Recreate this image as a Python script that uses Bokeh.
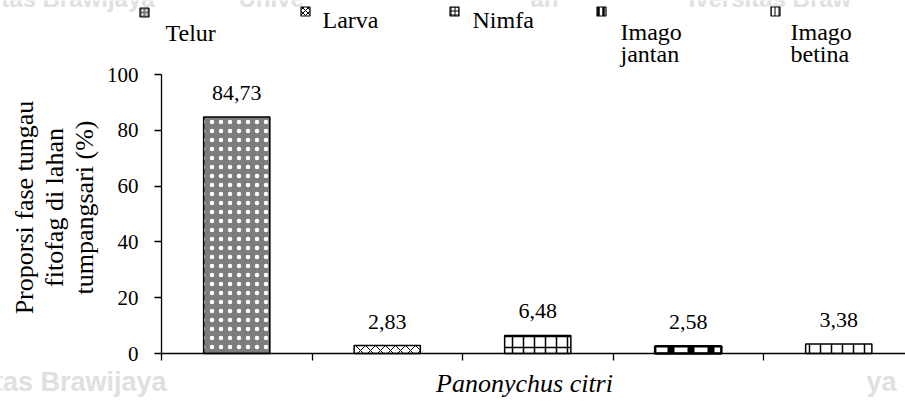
import math
from bokeh.plotting import figure
from bokeh.models import Range1d, FixedTicker, ColumnDataSource
from bokeh.core.properties import value
from bokeh.embed import file_html
from bokeh.resources import INLINE

# Proportion of each life stage of the phytophagous mite (Panonychus citri)
stages = ["Telur", "Larva", "Nimfa", "Imago jantan", "Imago betina"]
legend_lines = [["Telur"], ["Larva"], ["Nimfa"], ["Imago", "jantan"], ["Imago", "betina"]]
proportions = [84.73, 2.83, 6.48, 2.58, 3.38]
y_ticks = [0, 20, 40, 60, 80, 100]
species = "Panonychus citri"
y_title_lines = ["Proporsi fase tungau", "fitofag di lahan", "tumpangsari (%)"]

FONT = "Liberation Serif"

# fill styles for each stage
fills = ["#7c7c7c", "white", "white", "white", "white"]
hatches = ["dot", "diagonal_cross", "cross", "vertical_line", "vertical_line"]
hatch_colors = ["white", "black", "black", "black", "black"]
hatch_scales = [9, 10, 11, 20, 11]
hatch_weights = [2.2, 1, 1.5, 7, 1.5]
outline_widths = [1.5, 1.5, 1.5, 2.5, 1.5]

# page geometry (pixels)
W, H = 905, 406
AXIS_X = 161           # where the value axis sits
AXIS_Y = 353           # where the category axis sits
CAT_PX = 150.5         # width of one category slot
UNIT_PX = 2.79         # pixels per percentage point

value_labels = [f"{v:.2f}".replace(".", ",") for v in proportions]
xs = [i + 0.5 for i in range(len(stages))]

src = ColumnDataSource(dict(
    x=xs, top=proportions, label=value_labels, fill=fills, hatch=hatches,
    hcolor=hatch_colors, hscale=hatch_scales, hweight=hatch_weights, lw=outline_widths,
))

x_end = (W - AXIS_X) / CAT_PX
p = figure(width=W, height=H,
           x_range=Range1d(-AXIS_X / CAT_PX, x_end),
           y_range=Range1d(-(H - AXIS_Y) / UNIT_PX, AXIS_Y / UNIT_PX),
           output_backend="svg", toolbar_location=None,
           min_border=0)
p.outline_line_color = None
p.grid.visible = False
p.background_fill_color = "white"
p.border_fill_color = "white"
# pixel ranges for the legend strip and titles
p.extra_x_ranges = {"px": Range1d(0, W)}
p.extra_y_ranges = {"px": Range1d(H, 0)}

# faint document watermark along the edges (drawn first, underneath everything)
p.text(x=[-6, 238, 530, 688], y=[-2, -2, -2, -2],
       text=["itas Brawijaya", "Unive", "an", "iversitas Braw"],
       x_range_name="px", y_range_name="px", text_align="left", text_baseline="middle",
       text_font=value("Liberation Sans"), text_font_style="bold",
       text_font_size="24px", text_color="#e0e0e0")
p.text(x=[-14, 866], y=[381, 381], text=["itas Brawijaya", "ya"],
       x_range_name="px", y_range_name="px", text_align="left", text_baseline="middle",
       text_font=value("Liberation Sans"), text_font_style="bold",
       text_font_size="27px", text_color="#e0e0e0")

p.vbar(x="x", top="top", width=0.44, bottom=0, source=src,
       fill_color="fill", line_color="black", line_width="lw",
       hatch_pattern="hatch", hatch_color="hcolor", hatch_scale="hscale",
       hatch_weight="hweight")

p.text(x="x", y="top", text="label", source=src, y_offset=-24,
       text_align="center", text_baseline="alphabetic",
       text_font=value(FONT), text_font_size="22px", text_color="black")

for ax in (p.xaxis[0], p.yaxis[0]):
    ax.fixed_location = 0
    ax.axis_line_color = "black"
    ax.axis_line_width = 1.3
    ax.major_tick_line_color = "black"
    ax.major_tick_line_width = 1.3
    ax.major_tick_out = 7
    ax.major_tick_in = 0
    ax.minor_tick_line_color = None
    ax.major_label_text_font = FONT
    ax.major_label_text_color = "black"

p.xaxis.ticker = FixedTicker(ticks=[0, 1, 2, 3, 4])
p.xaxis.bounds = (0, x_end)
p.xaxis.major_label_text_font_size = "0px"

p.yaxis.ticker = FixedTicker(ticks=y_ticks)
p.yaxis.bounds = (0, 100)
p.yaxis.major_label_text_font_size = "21px"
p.yaxis.major_label_standoff = 16

# axis titles
p.text(x=[524], y=[383], text=[species], x_range_name="px", y_range_name="px",
       text_align="center", text_baseline="middle", text_font=value(FONT),
       text_font_style="italic", text_font_size="26px", text_color="black")
p.text(x=[24, 54, 84], y=[207] * 3, text=y_title_lines, angle=math.pi / 2,
       x_range_name="px", y_range_name="px",
       text_align="center", text_baseline="middle", text_font=value(FONT),
       text_font_size="26px", text_color="black")

# ---- legend strip along the top ----
marker_x = [144, 305, 454, 601, 775]
text_x = [165, 322, 472, 620, 790]
p.rect(x=marker_x, y=[12, 11, 11, 11, 11], width=9, height=9,
       x_range_name="px", y_range_name="px",
       fill_color=fills, line_color="black", line_width=1.2,
       hatch_pattern=hatches, hatch_color=hatch_colors,
       hatch_scale=[4, 5, 4, 5, 4], hatch_weight=[1, 1, 1, 2.5, 1])

tx, ty, tt = [], [], []
for i, lines in enumerate(legend_lines):
    if len(lines) == 1:
        ys = [32] if stages[i] == "Telur" else [19]
    else:
        ys = [31, 53]
    for txt, yy in zip(lines, ys):
        tx.append(text_x[i]); ty.append(yy); tt.append(txt)
p.text(x=tx, y=ty, text=tt, x_range_name="px", y_range_name="px",
       text_align="left", text_baseline="middle",
       text_font=value(FONT), text_font_size="24px", text_color="black")

open("out.html", "w").write(file_html(p, INLINE))
